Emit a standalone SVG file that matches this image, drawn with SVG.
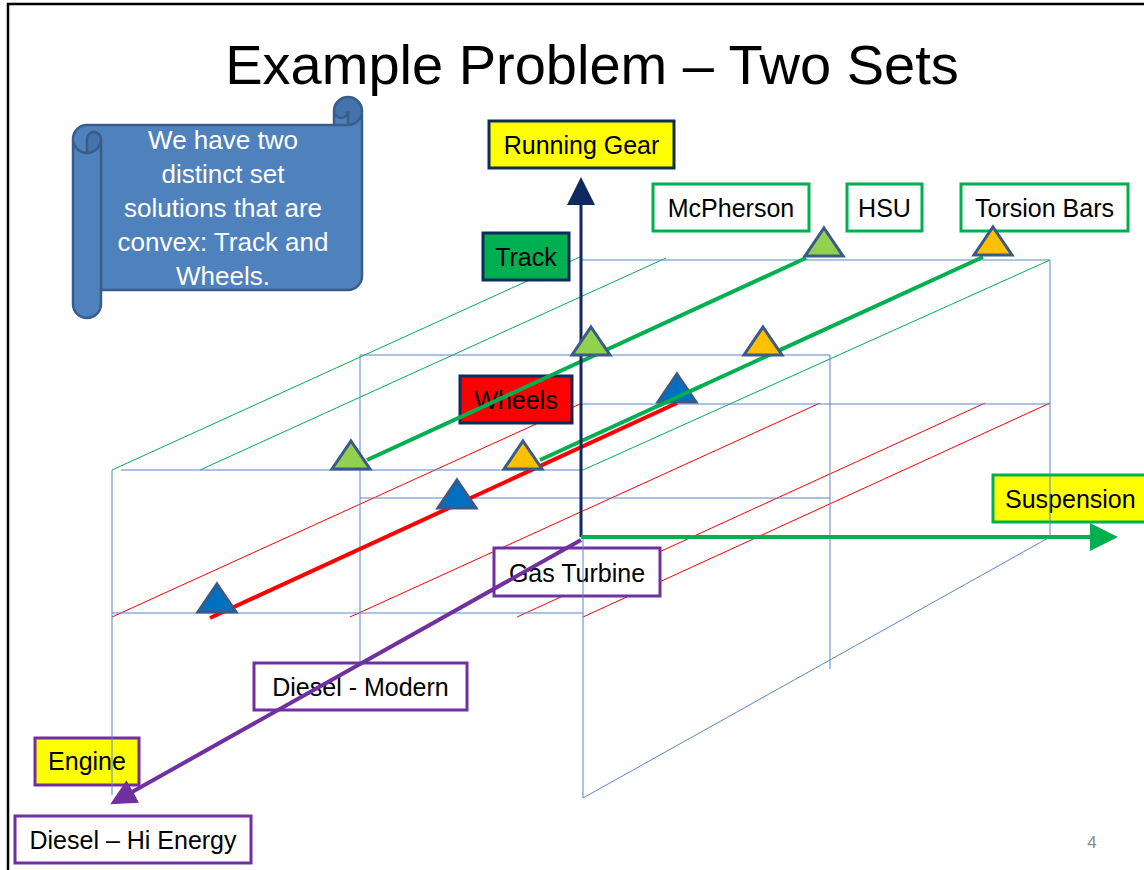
<svg xmlns="http://www.w3.org/2000/svg" width="1144" height="870" viewBox="0 0 1144 870">
  <style>
    .title { font-family: "Liberation Sans", Arial, sans-serif; font-size: 56px; fill: #000; text-anchor: middle; }
    .lbl { font-family: "Liberation Sans", Arial, sans-serif; font-size: 25px; fill: #000; text-anchor: middle; }
    .note { font-family: "Liberation Sans", Arial, sans-serif; font-size: 26px; fill: #fff; text-anchor: middle; }
    .pg { font-family: "Liberation Sans", Arial, sans-serif; font-size: 17px; fill: #8b8b8b; text-anchor: middle; }
    .box { stroke-width: 3; }
    .navy { stroke: #0f2a5e; }
    .grn { stroke: #00b050; }
    .pur { stroke: #7030a0; }
    .grid { fill: none; stroke: #5b86c5; stroke-width: 1; }
    .thin-g { fill: none; stroke: #00b050; stroke-width: 1; }
    .thin-r { fill: none; stroke: #ff0000; stroke-width: 1; }
    .tri { stroke: #3a5a8c; stroke-width: 3; stroke-linejoin: miter; }
    .tri-g { fill: #92d050; }
    .tri-o { fill: #ffc000; }
    .tri-b { fill: #0070c0; }
  </style>
  <defs>
    <marker id="ah-navy" markerUnits="userSpaceOnUse" markerWidth="28" markerHeight="28" refX="1" refY="14" orient="auto" viewBox="0 0 28 28">
      <path d="M0,0 L28,14 L0,28 Z" fill="#0f2a5e"/>
    </marker>
    <marker id="ah-green" markerUnits="userSpaceOnUse" markerWidth="28" markerHeight="28" refX="1" refY="14" orient="auto" viewBox="0 0 28 28">
      <path d="M0,0 L28,14 L0,28 Z" fill="#00b050"/>
    </marker>
    <marker id="ah-purple" markerUnits="userSpaceOnUse" markerWidth="26" markerHeight="26" refX="1" refY="13" orient="auto" viewBox="0 0 26 26">
      <path d="M0,0 L26,13 L0,26 Z" fill="#7030a0"/>
    </marker>
  </defs>

  <rect x="0" y="0" width="1144" height="870" fill="#fff"/>
  <!-- slide frame -->
  <path d="M8,870 V4 H1144" fill="none" stroke="#000" stroke-width="2.5"/>

  <text class="title" x="592" y="84">Example Problem – Two Sets</text>

  <!-- top and lower planes of the design space, drawn beneath the labels -->
  <g id="planes">
    <line class="thin-g" x1="112" y1="470" x2="580" y2="257"/>
    <line class="thin-g" x1="200" y1="470" x2="666" y2="258"/>
    <line class="thin-g" x1="583" y1="470" x2="1050" y2="260"/>
    <line class="thin-r" x1="112" y1="617" x2="580" y2="404"/>
    <line class="thin-r" x1="350" y1="617" x2="820" y2="403"/>
    <line class="thin-r" x1="517" y1="617" x2="985" y2="403"/>
    <line class="thin-r" x1="583" y1="617" x2="1050" y2="403"/>
  </g>

  <!-- callout scroll -->
  <g id="note">
    <path d="M73,139 A14,14 0 0 1 87,125 L334,125 L334,111 A14,14 0 0 1 362,111 L362,276 A14,14 0 0 1 348,290 L101,290 L101,304 A14,14 0 0 1 73,304 Z" fill="#4f81bd"/>
    <path d="M87,153 A14,14 0 0 0 101,139 A7,7 0 0 0 87,139 Z M348,125 A14,14 0 1 0 334,111 A7,7 0 0 0 348,111 Z" fill="#4573ab"/>
    <path d="M73,139 A14,14 0 0 1 87,125 L334,125 L334,111 A14,14 0 0 1 362,111 L362,276 A14,14 0 0 1 348,290 L101,290 L101,304 A14,14 0 0 1 73,304 Z M334,125 L348,125 A14,14 0 0 0 362,111 M348,125 L348,111 A7,7 0 0 1 334,111 M87,153 L87,139 A7,7 0 0 1 101,139 A14,14 0 0 1 73,139 M101,139 L101,290" fill="none" stroke="#385d8a" stroke-width="2.5"/>
    <text class="note" x="223" y="149">We have two</text>
    <text class="note" x="223" y="183">distinct set</text>
    <text class="note" x="223" y="217">solutions that are</text>
    <text class="note" x="223" y="251">convex: Track and</text>
    <text class="note" x="223" y="285">Wheels.</text>
  </g>

  <!-- axis titles -->
  <g id="running-gear">
    <rect class="box navy" x="489" y="121" width="185" height="47" fill="#ffff00"/>
    <text class="lbl" x="581.5" y="153.5">Running Gear</text>
  </g>
  <g id="suspension">
    <rect class="box grn" x="993" y="475" width="160" height="47" fill="#ffff00"/>
    <text class="lbl" x="1005" y="507.5" style="text-anchor:start">Suspension</text>
  </g>
  <g id="engine">
    <rect class="box pur" x="35" y="738" width="104" height="47" fill="#ffff00"/>
    <text class="lbl" x="87" y="770">Engine</text>
  </g>

  <!-- running gear options -->
  <g id="track">
    <rect class="box navy" x="483" y="233" width="86" height="47" fill="#00b050"/>
    <text class="lbl" x="526" y="265.5">Track</text>
  </g>
  <g id="wheels">
    <rect class="box navy" x="460" y="376" width="112" height="47" fill="#ff0000"/>
    <text class="lbl" x="516" y="408.5">Wheels</text>
  </g>

  <!-- suspension options -->
  <g id="mcpherson">
    <rect class="box grn" x="653" y="184" width="156" height="47" fill="#fff"/>
    <text class="lbl" x="731" y="216.5">McPherson</text>
  </g>
  <g id="hsu">
    <rect class="box grn" x="847" y="184" width="75" height="47" fill="#fff"/>
    <text class="lbl" x="884.5" y="216.5">HSU</text>
  </g>
  <g id="torsion-bars">
    <rect class="box grn" x="961" y="184" width="167" height="47" fill="#fff"/>
    <text class="lbl" x="1044.5" y="216.5">Torsion Bars</text>
  </g>

  <!-- engine options -->
  <g id="gas-turbine">
    <rect class="box pur" x="494" y="548" width="166" height="48" fill="#fff"/>
    <text class="lbl" x="577" y="581.5">Gas Turbine</text>
  </g>
  <g id="diesel-modern">
    <rect class="box pur" x="254" y="663" width="213" height="47" fill="#fff"/>
    <text class="lbl" x="360.5" y="695.5">Diesel - Modern</text>
  </g>
  <g id="diesel-hi-energy">
    <rect class="box pur" x="15" y="816" width="236" height="47" fill="#fff"/>
    <text class="lbl" x="133" y="848.5">Diesel – Hi Energy</text>
  </g>

  <!-- box outline of the design space -->
  <g id="frame-lines" class="grid">
    <line x1="581" y1="260" x2="1050" y2="260"/>
    <line x1="1050" y1="260" x2="1050" y2="537"/>
    <line x1="1050" y1="537" x2="583" y2="798"/>
    <line x1="583" y1="537" x2="583" y2="798"/>
    <line x1="581" y1="404" x2="1050" y2="404"/>
    <line x1="360" y1="355" x2="830" y2="355"/>
    <line x1="360" y1="498" x2="830" y2="498"/>
    <line x1="360" y1="355" x2="360" y2="663"/>
    <line x1="830" y1="355" x2="830" y2="669"/>
    <line x1="121" y1="470" x2="583" y2="470"/>
    <line x1="112" y1="613" x2="583" y2="613"/>
    <line x1="112" y1="470" x2="112" y2="795"/>
  </g>

  <g id="connectors">
    <!-- convex solution sets -->
    <line x1="367" y1="460" x2="806" y2="258" stroke="#00b050" stroke-width="4"/>
    <line x1="540" y1="460" x2="983" y2="257" stroke="#00b050" stroke-width="4"/>
    <line x1="210" y1="618" x2="677" y2="403" stroke="#ff0000" stroke-width="4"/>
    <!-- axes -->
    <line x1="581" y1="537" x2="581" y2="204" stroke="#0f2a5e" stroke-width="3" marker-end="url(#ah-navy)"/>
    <line x1="581" y1="537" x2="1091" y2="537" stroke="#00b050" stroke-width="4" marker-end="url(#ah-green)"/>
    <line x1="581" y1="540" x2="132" y2="792" stroke="#7030a0" stroke-width="4" marker-end="url(#ah-purple)"/>
  </g>

  <!-- design points -->
  <g id="points">
    <path class="tri tri-g" d="M351,441 L370,469 L332,469 Z"/>
    <path class="tri tri-g" d="M591,327 L610,355 L572,355 Z"/>
    <path class="tri tri-g" d="M824,228 L843,256 L805,256 Z"/>
    <path class="tri tri-o" d="M523,441 L542,469 L504,469 Z"/>
    <path class="tri tri-o" d="M763,327 L782,355 L744,355 Z"/>
    <path class="tri tri-o" d="M993,227 L1012,255 L974,255 Z"/>
    <path class="tri tri-b" d="M217,584 L236,612 L198,612 Z"/>
    <path class="tri tri-b" d="M457,480 L476,508 L438,508 Z"/>
    <path class="tri tri-b" d="M677,374 L696,402 L658,402 Z"/>
  </g>
  <!-- the torsion-bar set line runs across the rear wheel point -->
  <line x1="655" y1="407.3" x2="702" y2="385.8" stroke="#00b050" stroke-width="4"/>

  <text class="pg" x="1092" y="848">4</text>
</svg>
